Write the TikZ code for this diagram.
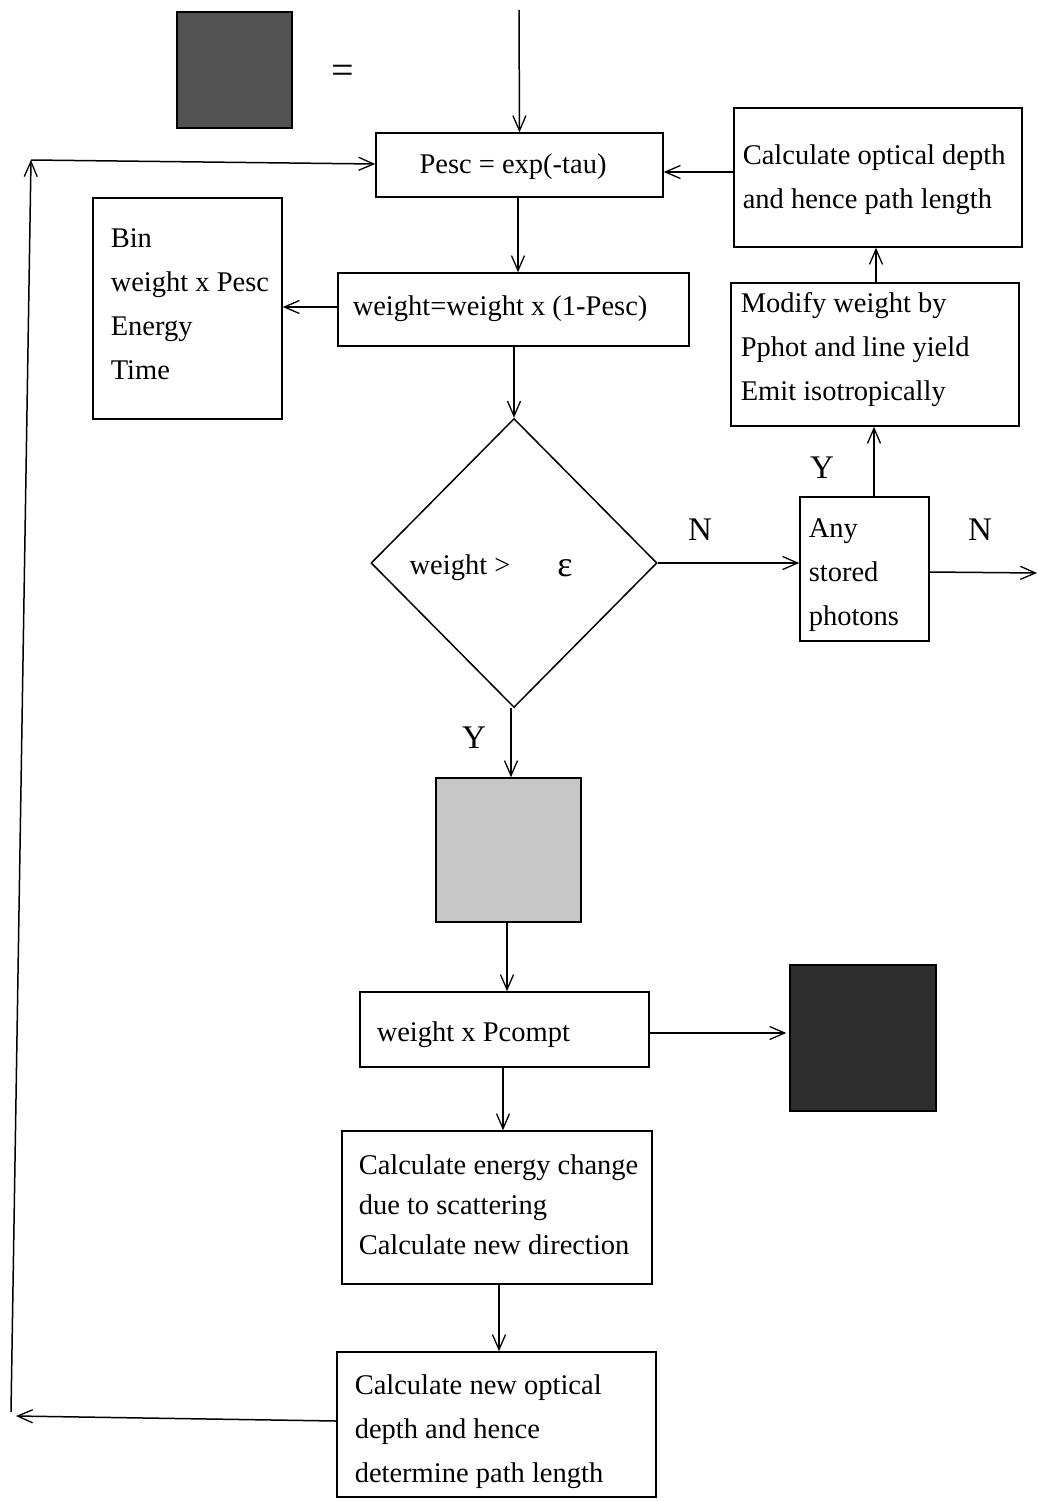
\documentclass[tikz,border=0pt]{standalone}
\usepackage{fontspec}
\setmainfont{Liberation Serif}
\usetikzlibrary{arrows.meta,shapes.geometric}
\begin{document}
\begin{tikzpicture}[x=1pt,y=-1pt,
  line width=1.5pt,
  every node/.style={font=\fontsize{28.5}{44}\selectfont, inner sep=0pt},
  box/.style={draw, rectangle, line width=1.5pt},
  txt/.style={anchor=west, align=left},
  lbl/.style={font=\fontsize{33}{40}\selectfont},
  arr/.style={-{Straight Barb[length=15pt,width=13pt,line width=1.3pt]}},
  decision/.style={draw, diamond, line width=1.5pt, minimum width=286pt, minimum height=289pt}]
\useasboundingbox (0,0) rectangle (1038,1501);

% legend: shaded square equals ...
\node[box, fill=black!68, minimum width=115pt, minimum height=116pt] (legend) at (234.5,70) {};
\node[font=\fontsize{40}{44}\selectfont] (eq) at (343,74) {=};

% main flow boxes
\node[box, minimum width=287pt, minimum height=64pt] (pesc) at (519.5,165) {};
\node (pesc-t) at (513,167) {Pesc = exp(-tau)};

\node[box, minimum width=288pt, minimum height=139pt] (calc) at (878,177.5) {};
\node[txt] (calc-t) at (742,180) {Calculate optical depth\\and hence path length};

\node[box, minimum width=351pt, minimum height=73pt] (weight) at (513.5,309.5) {};
\node[txt] (weight-t) at (352,309) {weight=weight x (1-Pesc)};

\node[box, minimum width=189pt, minimum height=221pt] (bin) at (187.5,308.5) {};
\node[txt] (bin-t) at (110,304) {Bin\\weight x Pesc\\Energy\\Time};

\node[box, minimum width=288pt, minimum height=143pt] (modify) at (875,354.5) {};
\node[txt] (modify-t) at (740,350) {Modify weight by\\Pphot and line yield\\Emit isotropically};

\node[decision] (test) at (514,563) {};
\node (test-t) at (460,568) {weight >};
\node[font=\fontsize{36}{40}\selectfont] (eps) at (565,568) {ε};

\node[box, minimum width=129pt, minimum height=144pt] (any) at (864.5,569) {};
\node[txt] (any-t) at (808,575) {Any\\stored\\photons};

\node[box, fill=black!22, minimum width=145pt, minimum height=144pt] (light) at (508.5,850) {};

\node[box, minimum width=289pt, minimum height=75pt] (pcompt) at (504.5,1029.5) {};
\node[txt] (pcompt-t) at (376,1035) {weight x Pcompt};

\node[box, fill=black!82, minimum width=146pt, minimum height=146pt] (dark) at (863,1038) {};

\node[box, minimum width=310pt, minimum height=153pt] (energy) at (497,1207.5) {};
\node[txt, font=\fontsize{28.5}{40}\selectfont] (energy-t) at (358,1205) {Calculate energy change\\due to scattering\\Calculate new direction};

\node[box, minimum width=319pt, minimum height=145pt] (newd) at (496.5,1424.5) {};
\node[txt] (newd-t) at (354,1432) {Calculate new optical\\depth and hence\\determine path length};

% branch labels
\node[lbl] (n1) at (700,530) {N};
\node[lbl] (y1) at (822,468) {Y};
\node[lbl] (n2) at (980,530) {N};
\node[lbl] (y2) at (474,738) {Y};

% free ends of connectors
\coordinate (in) at (519,10);
\coordinate (out) at (1037,573);
\coordinate (retTip) at (16,1416);
\coordinate (retBot) at (11,1412);
\coordinate (retTop) at (31,160);

% connectors
\draw[arr] (in) -- (pesc.north);
\draw[arr] (calc.west |- 0,172) -- (pesc.east |- 0,172);
\draw[arr] (pesc.south -| 518,0) -- (weight.north -| 518,0);
\draw[arr] (weight.west |- 0,307) -- (bin.east |- 0,307);
\draw[arr] (weight.south -| test.north) -- (test.north);
\draw[arr] (test.east) -- (any.west |- test.east);
\draw[arr] (any.north -| 874,0) -- (modify.south -| 874,0);
\draw[arr] (modify.north -| 876,0) -- (calc.south -| 876,0);
\draw[arr] (any.east |- 0,572) -- (out);
\draw[arr] (test.south -| 511,0) -- (light.north -| 511,0);
\draw[arr] (light.south -| 507,0) -- (pcompt.north -| 507,0);
\draw[arr] (pcompt.east |- 0,1033) -- ([xshift=-3pt]dark.west |- 0,1033);
\draw[arr] (pcompt.south -| 503,0) -- (energy.north -| 503,0);
\draw[arr] (energy.south -| 499,0) -- (newd.north -| 499,0);
\draw[arr] (newd.west |- 0,1421) -- (retTip);
\draw[arr] (retBot) -- (retTop);
\draw[arr] (retTop) -- (pesc.west |- 0,164);
\end{tikzpicture}
\end{document}
